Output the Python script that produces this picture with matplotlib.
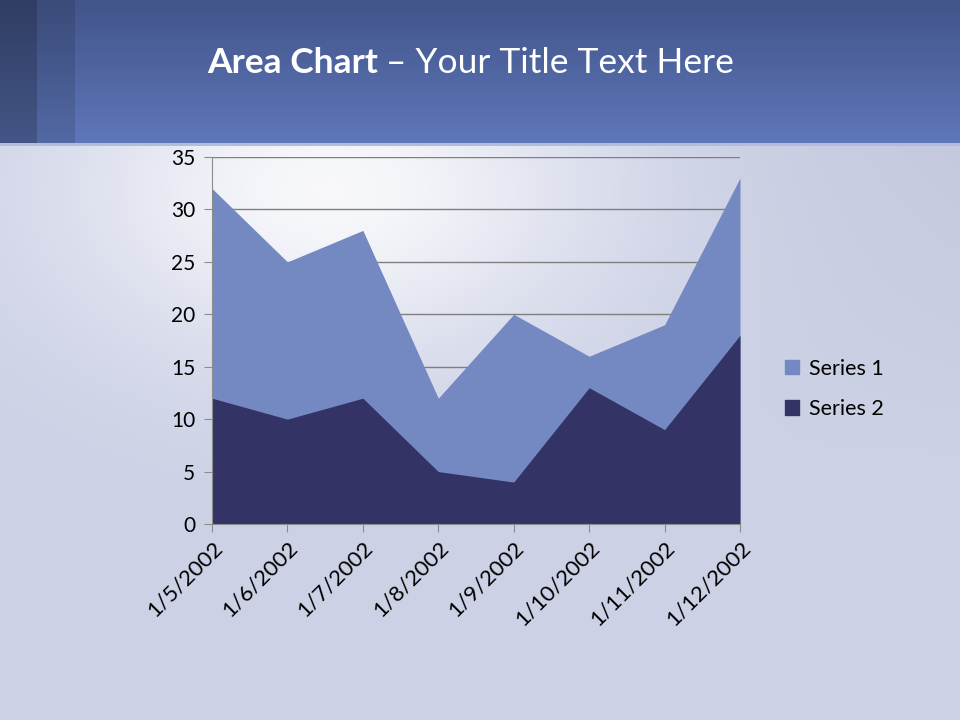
import numpy as np
import matplotlib.pyplot as plt
from matplotlib.patches import Patch

# data
dates = ["1/5/2002", "1/6/2002", "1/7/2002", "1/8/2002",
         "1/9/2002", "1/10/2002", "1/11/2002", "1/12/2002"]
series1 = [32, 25, 28, 12, 20, 16, 19, 33]
series2 = [12, 10, 12, 5, 4, 13, 9, 18]

c1 = "#7489c2"
c2 = "#333366"

plt.rcParams['font.family'] = ['Lato', 'DejaVu Sans']

fig = plt.figure(figsize=(9.6, 7.2), dpi=100)

# slide background
bg = fig.add_axes([0, 0, 1, 1], zorder=-10)
bg.set_axis_off()
H, W = 720, 960
yy, xx = np.mgrid[0:H, 0:W]
base = np.array([0.80, 0.82, 0.90])
img = np.ones((H, W, 3)) * base
glow = np.exp(-(((xx - 330) / 260.0) ** 2 + ((yy - 190) / 170.0) ** 2))
img = img + (1 - img) * glow[..., None] * 0.85
shade = np.clip((xx - 600) / 360.0, 0, 1) * np.clip(1 - (yy - 150) / 300.0, 0, 1)
img = img - shade[..., None] * 0.03
# header band
t = np.linspace(0, 1, 145)[:, None]
top = np.array([0.26, 0.33, 0.54])
bot = np.array([0.37, 0.47, 0.73])
img[:145] = top + (bot - top) * t[..., None]
img[:145, :37] = img[:145, :37] * 0.72
img[:145, 37:75] = img[:145, 37:75] * 0.88
img[143:146] = np.array([0.70, 0.74, 0.86])
bg.imshow(np.clip(img, 0, 1), extent=[0, 1, 0, 1], aspect='auto')
bg.set_xlim(0, 1)
bg.set_ylim(0, 1)

# title
t1 = fig.text(207 / 960, 1 - 63 / 720, "Area Chart", color="white",
              fontsize=25.5, fontweight="bold", va="center", ha="left")
fig.canvas.draw()
ext = t1.get_window_extent()
fig.text(ext.x1 / 960 + 0.008, 1 - 63 / 720, "\u2013 Your Title Text Here",
         color="white", fontsize=25.5, va="center", ha="left")

ax = fig.add_axes([212 / 960, 1 - 524 / 720, 528 / 960, 367 / 720])
ax.patch.set_alpha(0)
x = np.arange(len(dates))
ax.fill_between(x, 0, series1, color=c1, lw=0, zorder=2)
ax.fill_between(x, 0, series2, color=c2, lw=0, zorder=3)
ax.set_xlim(0, len(dates) - 1)
ax.set_ylim(0, 35)
ax.set_yticks(range(0, 36, 5))
ax.grid(axis='y', color='#7f7f7f', lw=1, zorder=1)
ax.set_axisbelow(True)
for s in ['top', 'right']:
    ax.spines[s].set_visible(False)
for s in ['left', 'bottom']:
    ax.spines[s].set_color('#8c8c8c')
    ax.spines[s].set_zorder(5)
ax.set_xticks(x)
ax.set_xticklabels(dates, rotation=45, ha='right', va='top',
                   rotation_mode='anchor')
ax.tick_params(axis='both', colors='#8c8c8c', labelcolor='black',
               labelsize=15, length=6, direction='out')
ax.tick_params(axis='x', labelsize=16, pad=4)
ax.tick_params(axis='y', pad=6)

handles = [Patch(color=c1, label="Series 1"), Patch(color=c2, label="Series 2")]
fig.legend(handles=handles, loc='center left',
           bbox_to_anchor=(766 / 960, 1 - 389 / 720), frameon=False,
           fontsize=15.5, handlelength=0.65, handleheight=0.65,
           handletextpad=0.45, labelspacing=0.95)

fig.savefig("out.png", dpi=100)
